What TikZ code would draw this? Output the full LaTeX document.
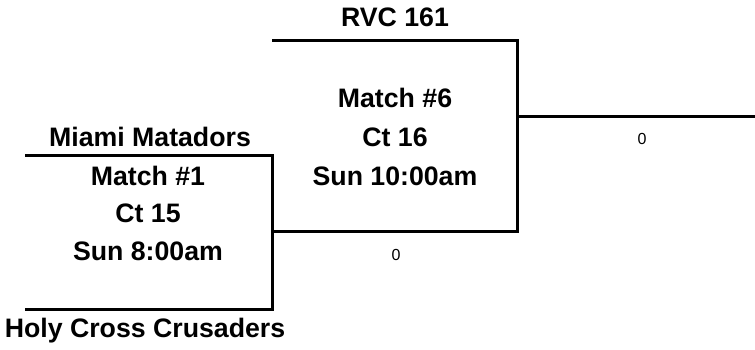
\documentclass[tikz,border=0pt]{standalone}
\usepackage{fontspec}
\setmainfont{Liberation Sans}
\begin{document}
\begin{tikzpicture}[x=1pt,y=-1pt,
  line/.style={line width=3pt},
  team/.style={font=\fontsize{26.7}{30}\selectfont\bfseries, inner sep=0pt, anchor=center},
  info/.style={font=\fontsize{26.7}{30}\selectfont\bfseries, inner sep=0pt, anchor=center},
  score/.style={font=\fontsize{16}{18}\selectfont, inner sep=0pt, anchor=center}]
\useasboundingbox (0,0) rectangle (755,349);
% first round bracket
\coordinate (a1) at (25,155);
\coordinate (a2) at (272,155);
\coordinate (a3) at (272,309);
\coordinate (a4) at (25,309);
\coordinate (am) at (272,231);
% second round bracket
\coordinate (b1) at (272,40);
\coordinate (b2) at (517,40);
\coordinate (bm) at (517,231);
\coordinate (bo) at (517,116);
\coordinate (bend) at (755,116);
\draw[line] (a1) -- (a2) -- (a3) -- (a4);
\draw[line] (am) -- (bm) -- (b2) -- (b1);
\draw[line] (bo) -- (bend);
\node[team] (t1) at (150,137) {Miami Matadors};
\node[team] (t2) at (145,331) {Holy Cross Crusaders};
\node[team] (t3) at (395,17) {RVC 161};
\node[info] (m1) at (148,176) {Match \#1};
\node[info] (c1) at (148,213) {Ct 15};
\node[info] (s1) at (148,251) {Sun 8:00am};
\node[info] (m6) at (395,98) {Match \#6};
\node[info] (c6) at (395,137) {Ct 16};
\node[info] (s6) at (395,176) {Sun 10:00am};
\node[score] (z1) at (396,255) {0};
\node[score] (z2) at (642,139) {0};
\end{tikzpicture}
\end{document}
